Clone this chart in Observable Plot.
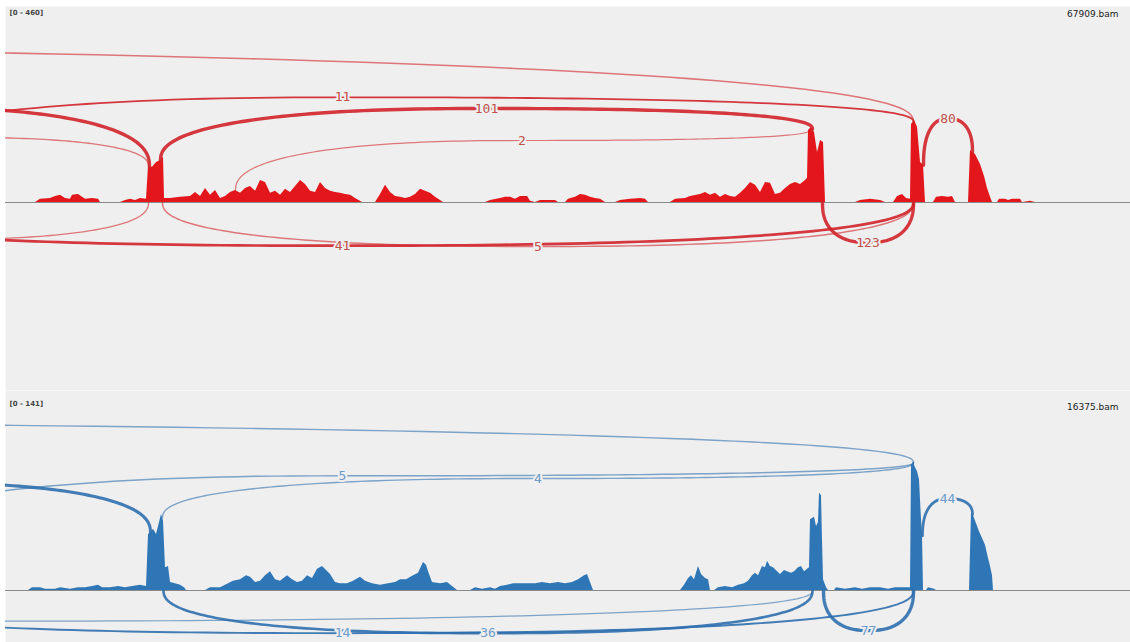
<!DOCTYPE html>
<html><head><meta charset="utf-8">
<script src="https://cdn.jsdelivr.net/npm/d3@7"></script>
<script src="https://cdn.jsdelivr.net/npm/@observablehq/plot@0.6"></script>
<style>
html,body{margin:0;padding:0;background:#fff;width:1130px;height:642px;overflow:hidden}
#chart{padding-top:6px}
svg{display:block}
</style></head><body>
<div id="chart"></div>
<script>
// ---- Track 1: 67909.bam (coverage, reads) ----
const redPos = [5,35,40,50,55,60,65,70,72,78,82,85,92,98,100,
120,125,130,135,140,146,148,152,156,160,163,164,
170,180,190,195,200,205,210,215,220,225,230,235,240,245,250,255,260,265,270,275,280,285,290,295,300,305,310,315,320,325,330,335,340,345,350,355,362,
375,380,385,390,395,400,405,410,415,420,425,430,435,440,443,
485,490,500,505,510,515,520,527,530,535,540,555,558,565,568,575,580,585,590,595,600,605,615,620,630,640,645,648,
670,675,685,690,700,705,710,715,720,725,730,735,740,745,750,755,760,765,770,775,780,785,790,795,800,805,807,808,811,814,817,820,823,825,
855,860,870,880,885,893,897,902,906,910,911,914,917,920,923,925,
933,936,942,948,952,955,
968,970,975,980,984,987,990,992,
997,999,1005,1008,1012,1020,1022,1030,1035];
const redDepth = [0,0,8,10,15,18,10,8,18,20,13,8,10,8,0,
0,5,8,5,10,8,90,88,100,105,113,10,
10,13,15,25,15,35,18,30,10,15,25,30,23,35,40,28,55,50,23,28,18,33,25,40,55,45,28,25,50,35,28,25,23,20,18,10,0,
0,20,43,25,15,13,10,13,20,33,28,23,13,5,0,
0,5,10,13,13,8,15,15,3,0,5,5,0,0,8,13,20,18,13,10,8,0,0,5,8,10,8,0,
0,8,10,15,20,25,18,23,13,20,15,13,23,35,50,43,25,50,48,20,23,35,45,50,45,55,60,180,188,175,125,155,150,0,
0,5,8,5,0,0,15,20,10,8,195,205,188,100,93,0,
0,13,15,13,15,0,
0,130,120,95,65,35,13,0,
0,8,8,5,8,8,0,3,0];
// junctions of track 1
const redJStart = [-3000, -229, -350, -250, 160, 235, 923, 822, -229, 162, -300];
const redJEnd   = [913, 913, 149, 148, 812, 808, 972, 913, 913, 913, 148];
const redJCount = [6, 11, 95, 3, 101, 2, 80, 123, 41, 5, 3];
const redJArc   = [393, 263, 238, 163, 235, 155, 210, -100, -108, -110, -93];

// ---- Track 2: 16375.bam ----
const bluePos = [5,28,32,40,45,55,60,70,78,85,92,98,102,110,118,125,132,140,146,
148,151,153,156,159,161,163,165,168,170,175,180,184,186,
205,210,220,228,233,240,246,250,255,260,265,270,275,280,287,292,297,302,307,312,317,322,326,330,335,340,347,353,360,365,372,380,388,395,400,406,413,418,423,426,428,432,440,447,452,457,
470,475,482,490,495,500,507,513,520,527,535,542,550,558,565,572,578,584,587,590,593,
680,684,688,691,694,698,701,705,708,710,714,718,725,732,738,744,748,752,755,758,762,765,767,770,773,777,780,784,787,791,794,798,801,804,807,809,810,812,814,816,818,819,821,822,823,826,828,
834,836,845,855,862,870,880,888,895,905,910,911,913,915,917,919,921,922,923,
926,928,934,936,
969,971,973,976,979,982,985,988,990,992,993];
const blueDepth = [0,0,2,2,1,1,2,1,2,2,3,4,2,2,3,2,3,4,3,
42,44,46,42,51,57,52,17,18,6,5,4,2,0,
0,2,2,5,7,8,11,10,6,7,11,14,8,7,11,8,6,7,11,9,16,18,15,12,6,5,5,7,10,7,5,4,5,6,8,8,11,13,21,19,14,6,5,6,3,0,
0,2,1,2,1,3,4,5,5,5,5,6,5,6,5,6,8,11,12,6,0,
0,4,9,11,8,18,12,9,8,0,0,2,3,2,4,5,7,11,13,11,18,17,22,18,17,14,12,15,14,13,14,17,18,14,16,17,53,54,55,48,51,73,71,38,8,2,0,
0,2,1,2,1,2,2,1,2,2,2,94,96,92,89,83,53,41,0,
0,2,1,0,
0,58,56,50,44,39,34,24,18,11,0];
const blueJStart = [-3000, -229, 162, -350, 922, 823, 163, -229, -900];
const blueJEnd   = [913, 913, 913, 150, 972, 913, 812, 913, 812];
const blueJCount = [4, 5, 4, 60, 44, 77, 36, 14, 2];
const blueJArc   = [127, 86, 84, 81, 69, -30, -32, -32, -23];

const trackNames = ["67909.bam", "16375.bam"];
const dataRanges = ["[0 - 460]", "[0 - 141]"];

const BG = "#efefef";
const X0 = 5, X1 = 1130;

function covAt(pos, dep, x) {
  if (x <= pos[0] || x >= pos[pos.length - 1]) return 0;
  const i = d3.bisectRight(pos, x);
  const x0 = pos[i - 1], x1 = pos[i];
  return dep[i - 1] + (dep[i] - dep[i - 1]) * (x - x0) / (x1 - x0);
}

const K = 2.4, N = 60;
function arcPts(x1, x2, y1, y2, h) {
  const xm = (x1 + x2) / 2, pts = [];
  for (let i = 0; i <= N; i++) {
    const phi = (i / N) * Math.PI / 2;
    const d = Math.pow(Math.max(0, Math.cos(phi)), 2 / K), e = Math.pow(Math.sin(phi), 2 / K);
    pts.push({x: xm - (xm - x1) * d, y: y1 + (h - y1) * e});
  }
  for (let i = N - 1; i >= 0; i--) {
    const phi = (i / N) * Math.PI / 2;
    const d = Math.pow(Math.max(0, Math.cos(phi)), 2 / K), e = Math.pow(Math.sin(phi), 2 / K);
    pts.push({x: xm + (x2 - xm) * d, y: y2 + (h - y2) * e});
  }
  return pts;
}

function track({pos, dep, js, je, jc, ja, fill, line, label, range, name, height, yDomain, rangeDy, nameDy}) {
  const cov = pos.map((p, i) => ({pos: p, depth: dep[i]}));
  const marks = [
    Plot.frame({fill: BG, stroke: null}),
    Plot.ruleY([0], {stroke: "#8a8a8a", strokeWidth: 1.2}),
    Plot.areaY(cov, {x: "pos", y: "depth", fill, curve: "linear"})
  ];
  const labels = [];
  js.forEach((s, i) => {
    const e = je[i], h = ja[i];
    const y1 = h > 0 ? covAt(pos, dep, s) : 0;
    const y2 = h > 0 ? covAt(pos, dep, e) : 0;
    const w = Math.min(3.4, 0.8 + 0.3 * Math.sqrt(jc[i]));
    marks.push(Plot.line(arcPts(s, e, y1, y2, h), {
      x: "x", y: "y", stroke: line, strokeWidth: w,
      strokeOpacity: jc[i] < 8 ? 0.6 : 0.9, clip: true, curve: "linear"
    }));
    const xm = (s + e) / 2;
    if (xm > X0 + 10 && xm < X1 - 10) labels.push({x: xm, y: h, t: String(jc[i])});
  });
  marks.push(Plot.text(labels, {
    x: "x", y: "y", text: "t", fill: label, stroke: BG, strokeWidth: 4, paintOrder: "stroke",
    fontSize: 13, fontFamily: "DejaVu Sans Mono"
  }));
  marks.push(Plot.text([range], {frameAnchor: "top-left", dx: 4, dy: rangeDy, fontSize: 7, fontWeight: "bold",
    fill: "#444", fontFamily: "DejaVu Sans"}));
  marks.push(Plot.text([name], {frameAnchor: "top-right", dx: -12, dy: nameDy, fontSize: 9,
    fill: "#222", fontFamily: "DejaVu Sans"}));
  return Plot.plot({
    width: 1130, height,
    marginLeft: 5, marginRight: 0, marginTop: 0, marginBottom: 0,
    x: {domain: [X0, X1], axis: null},
    y: {domain: yDomain, axis: null},
    style: {background: "#fff", overflow: "hidden"},
    marks
  });
}

const root = document.getElementById("chart");
root.append(track({
  pos: redPos, dep: redDepth, js: redJStart, je: redJEnd, jc: redJCount, ja: redJArc,
  fill: "#e3161b", line: "#d0242a", label: "#c0504a", range: dataRanges[0], name: trackNames[0],
  height: 384, yDomain: [-470, 490], rangeDy: 4, nameDy: 4
}));
root.append(track({
  pos: bluePos, dep: blueDepth, js: blueJStart, je: blueJEnd, jc: blueJCount, ja: blueJArc,
  fill: "#2f76b7", line: "#2f6fae", label: "#6b9bcc", range: dataRanges[1], name: trackNames[1],
  height: 252, yDomain: [-39, 150], rangeDy: 11, nameDy: 13
}));
</script>
</body></html>
